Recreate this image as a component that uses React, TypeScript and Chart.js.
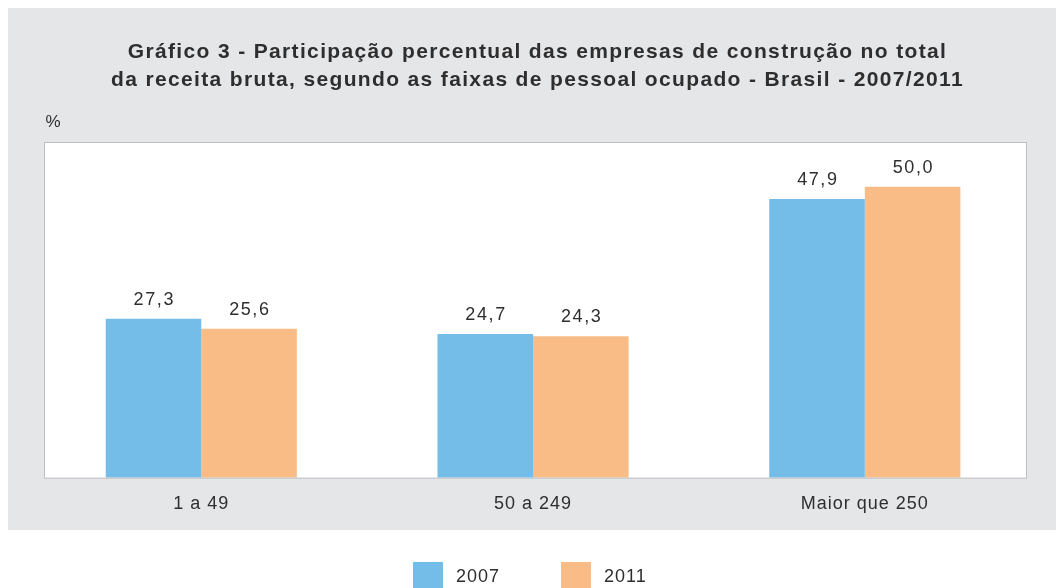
import React, { useEffect, useRef } from "react";
import { Chart, registerables } from "chart.js";

Chart.register(...registerables);

const categories = ["1 a 49", "50 a 249", "Maior que 250"];
const seriesNames = ["2007", "2011"];
const values2007 = [27.3, 24.7, 47.9];
const values2011 = [25.6, 24.3, 50.0];
const titleLines = [
  "Gráfico 3 - Participação percentual das empresas de construção no total",
  "da receita bruta, segundo as faixas de pessoal ocupado - Brasil - 2007/2011",
];
const unitLabel = "%";
const yMin = 0;
const yMax = 57.7;

const BLUE = "#74BDE8";
const ORANGE = "#F9BC87";
const PANEL = "#E5E6E8";
const TEXT = "#2E2E2E";
const FONT = "'Liberation Sans', Arial, Helvetica, sans-serif";

const W = 1048;
const H = 580;
const PANEL_H = 522;
const BOX = { left: 36, top: 134, right: 1019, bottom: 469.7 };

const fmt = (v: number) => v.toFixed(1).replace(".", ",");

const decorPlugin = {
  id: "decor",
  beforeDraw(chart: any) {
    const ctx = chart.ctx as CanvasRenderingContext2D;
    ctx.save();
    ctx.fillStyle = PANEL;
    ctx.fillRect(0, 0, W, PANEL_H);
    ctx.fillStyle = "#FFFFFF";
    ctx.fillRect(BOX.left, BOX.top, BOX.right - BOX.left, BOX.bottom - BOX.top);

    // title
    ctx.fillStyle = TEXT;
    (ctx as any).letterSpacing = "1.35px";
    ctx.font = `bold 21px ${FONT}`;
    ctx.textAlign = "center";
    ctx.textBaseline = "alphabetic";
    ctx.fillText(titleLines[0], 529.5, 50);
    ctx.fillText(titleLines[1], 529.5, 78);

    // unit
    (ctx as any).letterSpacing = "0px";
    ctx.font = `17px ${FONT}`;
    ctx.textAlign = "left";
    ctx.fillText(unitLabel, 37.5, 119);

    // legend
    const ds = chart.data.datasets;
    const boxX = [405, 553];
    (ctx as any).letterSpacing = "1px";
    ctx.font = `18px ${FONT}`;
    ds.forEach((d: any, i: number) => {
      ctx.fillStyle = d.backgroundColor;
      ctx.fillRect(boxX[i], 554, 30, 30);
      ctx.fillStyle = TEXT;
      ctx.fillText(d.label, boxX[i] + 43, 574.3);
    });
    ctx.restore();
    (ctx as any).letterSpacing = "1px";
  },
  afterDatasetsDraw(chart: any) {
    const ctx = chart.ctx as CanvasRenderingContext2D;
    ctx.save();
    (ctx as any).letterSpacing = "1.6px";
    ctx.font = `18px ${FONT}`;
    ctx.fillStyle = TEXT;
    ctx.textAlign = "center";
    ctx.textBaseline = "alphabetic";
    chart.data.datasets.forEach((d: any, di: number) => {
      const meta = chart.getDatasetMeta(di);
      meta.data.forEach((bar: any, i: number) => {
        ctx.fillText(fmt(d.data[i]), bar.x + 0.8, bar.y - 14);
      });
    });
    ctx.restore();
  },
  afterDraw(chart: any) {
    const ctx = chart.ctx as CanvasRenderingContext2D;
    ctx.save();
    ctx.strokeStyle = "#BEBFC3";
    ctx.lineWidth = 1;
    ctx.strokeRect(BOX.left + 0.5, BOX.top + 0.5, BOX.right - BOX.left - 1, BOX.bottom - BOX.top);
    ctx.restore();
  },
};

export default function App() {
  const ref = useRef<HTMLCanvasElement | null>(null);
  useEffect(() => {
    if (!ref.current) return;
    const chart = new Chart(ref.current, {
      type: "bar",
      data: {
        labels: categories,
        datasets: [
          { label: seriesNames[0], data: values2007, backgroundColor: BLUE, borderWidth: 0 },
          { label: seriesNames[1], data: values2011, backgroundColor: ORANGE, borderWidth: 0 },
        ],
      },
      options: {
        animation: false,
        responsive: false,
        maintainAspectRatio: false,
        layout: { padding: { top: BOX.top, left: 27.4, right: 25.3, bottom: H - BOX.bottom - 40 } },
        datasets: { bar: { categoryPercentage: 0.576, barPercentage: 1.0 } },
        plugins: {
          legend: { display: false },
          title: { display: false },
          tooltip: { enabled: false },
        },
        scales: {
          x: {
            grid: { display: false, drawTicks: false },
            border: { display: false },
            ticks: { color: TEXT, font: { family: FONT, size: 18 }, padding: 16 },
            afterFit: (s: any) => { s.height = 40; },
          },
          y: { display: false, min: yMin, max: yMax },
        },
      },
      plugins: [decorPlugin],
    });
    return () => chart.destroy();
  }, []);
  return (
    <div style={{ position: "fixed", left: 8, top: 8, width: W, height: H }}>
      <canvas ref={ref} width={W} height={H} style={{ width: W, height: H, display: "block" }} />
    </div>
  );
}
